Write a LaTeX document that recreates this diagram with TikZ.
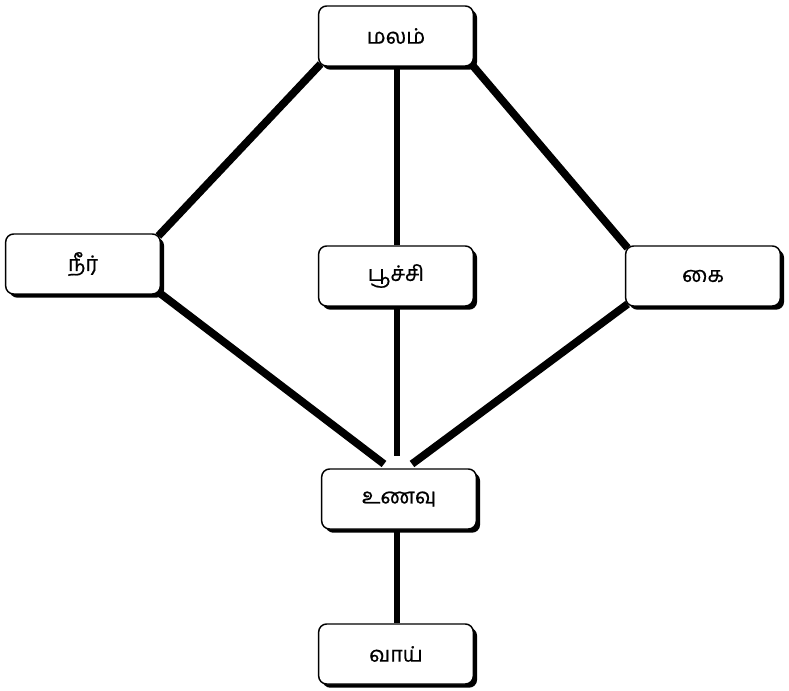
\documentclass[tikz,border=0pt]{standalone}
\usepackage{fontspec}
\newfontfamily\tamilfont[Script=Tamil,FakeBold=0.6]{Hind Madurai}
\usetikzlibrary{shadows,backgrounds,calc}
\tikzset{
  box/.style={draw=black, line width=1.1pt, fill=white, rounded corners=6pt,
    minimum width=116pt, minimum height=45pt, inner sep=0pt,
    font=\tamilfont\fontsize{16}{18}\selectfont,
    general shadow={fill=black, shadow xshift=2.8pt, shadow yshift=-2.8pt}},
  thickline/.style={line width=5.8pt, black},
  vline/.style={line width=4pt, black}
}
\begin{document}
\begin{tikzpicture}[x=0.75pt,y=-0.75pt]
\useasboundingbox (0,0) rectangle (789,691);
\node[box] (malam) at (396,36) {மலம்};
\node[box] (neer) at (83,264) {நீர்};
\node[box] (poochi) at (396,276) {பூச்சி};
\node[box] (kai) at (703,276) {கை};
\node[box] (unavu) at (399,499) {உணவு};
\node[box] (vaai) at (396,654) {வாய்};
\coordinate (uL) at (384,464);
\coordinate (uM) at (397,456);
\coordinate (uR) at (412,464);
\begin{scope}[on background layer]
\draw[thickline] ([xshift=2pt,yshift=2pt]malam.south west) -- ([xshift=-2pt,yshift=-2pt]neer.north east);
\draw[thickline] ([xshift=-2pt,yshift=2pt]malam.south east) -- ([xshift=2pt,yshift=-2pt]kai.north west);
\draw[vline] (malam.south -| uM) -- (poochi.north -| uM);
\draw[thickline] ([xshift=-2pt,yshift=2pt]neer.south east) -- (uL);
\draw[vline] (poochi.south -| uM) -- (uM);
\draw[thickline] ([xshift=2pt,yshift=2pt]kai.south west) -- (uR);
\draw[vline] (unavu.south -| uM) -- (vaai.north -| uM);
\end{scope}
\end{tikzpicture}
\end{document}
